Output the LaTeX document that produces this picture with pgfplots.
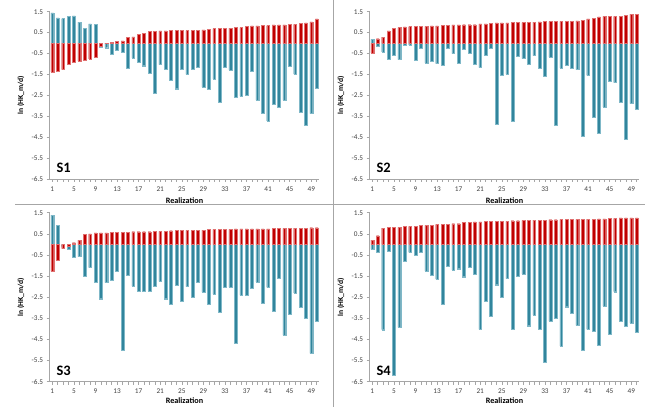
\documentclass[border=0pt]{standalone}
\usepackage{pgfplots}
\pgfplotsset{compat=1.18}
\usepackage{fontspec}
\setmainfont{Carlito}
\definecolor{barred}{HTML}{C00000}
\definecolor{barredl}{HTML}{E07070}
\definecolor{barteal}{HTML}{31859C}
\definecolor{bartealL}{HTML}{7FB8C8}
\definecolor{txtgray}{HTML}{404040}
\definecolor{axgray}{HTML}{A6A6A6}
\pgfplotsset{
 panel/.style={
  scale only axis, width=269.8bp, height=167.3bp,
  xmin=0.5, xmax=50.5, ymin=-6.5, ymax=1.5,
  axis x line*=bottom, axis y line*=left,
  axis line style={axgray, line width=0.6pt},
  ytick={-6.5,-5.5,-4.5,-3.5,-2.5,-1.5,-0.5,0.5,1.5},
  yticklabels={{-6.5},{-5.5},{-4.5},{-3.5},{-2.5},{-1.5},{-0.5},{0.5},{1.5}},
  xtick={1,5,9,13,17,21,25,29,33,37,41,45,49},
  xticklabels={1,5,9,13,17,21,25,29,33,37,41,45,49},
  minor xtick={1,...,50},
  tick style={axgray, line width=0.5pt},
  major tick length=3bp, minor tick length=3bp,
  tick align=outside,
  ticklabel style={font=\fontsize{7.3}{8}\selectfont, text=txtgray},
  xticklabel style={yshift=-1bp},
  ylabel={ln (HK\_m/d)},
  xlabel={Realization},
  every axis y label/.style={at={(axis description cs:-0.106,0.5)}, rotate=90, anchor=center, font=\fontsize{7.6}{8}\selectfont\bfseries, text=black},
  every axis x label/.style={at={(axis description cs:0.5,-0.13)}, anchor=center, font=\fontsize{8.2}{9}\selectfont\bfseries, text=black},
  ybar, bar width=2.8bp,
 },
 lowpanel/.style={height=169bp,
  every axis x label/.style={at={(axis description cs:0.5,-0.112)}, anchor=center, font=\fontsize{8.2}{9}\selectfont\bfseries, text=black}},
 tealbar/.style={fill=barteal, draw=bartealL, line width=0.3pt, bar shift=0pt},
 redbar/.style={fill=barred, draw=barredl, line width=0.3pt, bar shift=0pt},
}
\pgfplotstableread{
x s1r s1t s2r s2t s3r s3t s4r s4t
1 -1.38 1.44 -0.47 0.18 -1.28 1.39 0.20 -0.24
2 -1.33 1.20 0.21 -0.14 -0.74 0.91 0.41 -0.38
3 -1.27 1.17 0.29 -0.42 -0.20 -0.10 0.77 -4.04
4 -1.03 1.28 0.58 -0.77 -0.08 -0.24 0.80 -0.32
5 -0.90 1.30 0.69 -0.60 0.08 -0.60 0.80 -6.18
6 -0.85 1.00 0.74 -0.79 0.20 -0.58 0.80 -3.93
7 -0.82 0.69 0.77 -0.10 0.47 -1.51 0.85 -0.79
8 -0.76 0.92 0.79 -0.10 0.50 -1.10 0.85 -0.38
9 -0.69 0.90 0.80 -0.82 0.54 -1.77 0.87 -0.52
10 -0.13 -0.18 0.80 -0.26 0.54 -2.57 0.90 -0.36
11 -0.02 -0.22 0.80 -0.95 0.55 -1.81 0.90 -1.25
12 0.04 -0.53 0.82 -0.88 0.57 -1.70 0.91 -1.45
13 0.07 -0.33 0.82 -0.98 0.57 -1.28 0.95 -1.64
14 0.10 -0.45 0.84 -1.04 0.58 -5.00 0.95 -2.84
15 0.27 -1.19 0.84 -0.26 0.58 -1.47 0.95 -1.04
16 0.30 -0.71 0.87 -0.50 0.60 -1.97 0.98 -1.21
17 0.43 -0.90 0.87 -0.95 0.60 -2.22 0.98 -1.15
18 0.47 -1.08 0.88 -0.28 0.60 -2.22 1.04 -1.53
19 0.55 -1.43 0.88 -0.50 0.60 -2.22 1.04 -1.06
20 0.55 -2.38 0.88 -1.00 0.62 -1.97 1.06 -1.39
21 0.58 -1.03 0.92 -1.17 0.62 -1.75 1.06 -4.02
22 0.58 -1.27 0.92 -0.60 0.62 -2.57 1.09 -2.68
23 0.60 -1.78 0.93 -0.23 0.65 -2.84 1.09 -3.42
24 0.60 -2.18 0.96 -3.90 0.66 -1.94 1.09 -1.91
25 0.60 -1.25 0.96 -1.54 0.66 -2.67 1.09 -2.51
26 0.60 -1.50 0.96 -1.49 0.66 -2.00 1.09 -1.62
27 0.60 -1.24 0.98 -3.74 0.66 -2.51 1.12 -4.02
28 0.60 -1.14 0.98 -0.61 0.68 -1.80 1.12 -1.50
29 0.63 -2.11 0.98 -0.74 0.68 -2.26 1.14 -1.39
30 0.66 -2.19 1.00 -1.01 0.71 -2.82 1.15 -3.85
31 0.69 -1.71 1.00 -0.60 0.71 -2.35 1.15 -3.34
32 0.69 -2.83 1.01 -1.19 0.71 -3.19 1.15 -4.02
33 0.71 -1.14 1.03 -1.60 0.71 -2.03 1.15 -5.58
34 0.71 -1.28 1.03 -0.66 0.71 -2.02 1.17 -3.63
35 0.74 -2.57 1.03 -3.93 0.73 -4.68 1.17 -3.49
36 0.74 -2.54 1.04 -1.19 0.73 -2.40 1.18 -4.81
37 0.80 -2.49 1.04 -1.06 0.73 -2.40 1.18 -2.95
38 0.82 -1.33 1.04 -1.20 0.73 -2.08 1.18 -3.26
39 0.82 -2.73 1.06 -1.27 0.73 -1.77 1.18 -3.83
40 0.84 -3.37 1.09 -4.47 0.73 -2.79 1.18 -5.00
41 0.84 -3.72 1.16 -1.55 0.73 -2.03 1.20 -4.02
42 0.87 -2.94 1.19 -3.56 0.76 -3.15 1.20 -4.13
43 0.87 -3.05 1.25 -4.31 0.76 -1.61 1.21 -4.78
44 0.87 -2.73 1.28 -3.05 0.76 -4.29 1.21 -2.92
45 0.90 -1.11 1.28 -1.82 0.77 -3.31 1.23 -4.26
46 0.90 -1.49 1.28 -1.89 0.77 -2.30 1.23 -2.24
47 0.93 -3.29 1.28 -2.83 0.77 -2.98 1.25 -3.64
48 0.96 -3.93 1.33 -4.61 0.77 -3.49 1.25 -3.86
49 1.01 -3.37 1.39 -2.89 0.79 -5.16 1.25 -3.71
50 1.16 -2.14 1.39 -3.18 0.79 -3.64 1.25 -4.15
}\datatable
\begin{document}
\begin{tikzpicture}
\useasboundingbox (0bp,0bp) rectangle (645bp,407bp);
\draw[axgray, line width=0.8pt] (333bp,0bp) -- (333bp,407bp);
\draw[axgray, line width=0.8pt] (15bp,203bp) -- (645bp,203bp);
% S1
\begin{axis}[panel, at={(49.6bp,228bp)}, anchor=south west]
\addplot[tealbar] table[x=x,y=s1t]{\datatable};
\addplot[redbar] table[x=x,y=s1r]{\datatable};
\node[anchor=base west, font=\fontsize{14.5}{15}\selectfont\bfseries] at (axis description cs:0.013,0.038) {S1};
\end{axis}
% S2
\begin{axis}[panel, at={(369.6bp,228bp)}, anchor=south west]
\addplot[tealbar] table[x=x,y=s2t]{\datatable};
\addplot[redbar] table[x=x,y=s2r]{\datatable};
\node[anchor=base west, font=\fontsize{14.5}{15}\selectfont\bfseries] at (axis description cs:0.013,0.038) {S2};
\end{axis}
% S3
\begin{axis}[panel, lowpanel, at={(49.6bp,25.3bp)}, anchor=south west]
\addplot[tealbar] table[x=x,y=s3t]{\datatable};
\addplot[redbar] table[x=x,y=s3r]{\datatable};
\node[anchor=base west, font=\fontsize{14.5}{15}\selectfont\bfseries] at (axis description cs:0.013,0.038) {S3};
\end{axis}
% S4
\begin{axis}[panel, lowpanel, at={(369.6bp,25.3bp)}, anchor=south west]
\addplot[tealbar] table[x=x,y=s4t]{\datatable};
\addplot[redbar] table[x=x,y=s4r]{\datatable};
\node[anchor=base west, font=\fontsize{14.5}{15}\selectfont\bfseries] at (axis description cs:0.013,0.038) {S4};
\end{axis}
\end{tikzpicture}
\end{document}
